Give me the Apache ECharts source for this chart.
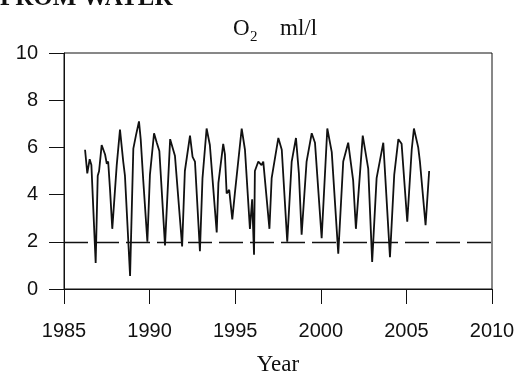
<!DOCTYPE html>
<html>
<head>
<meta charset="utf-8">
<script src="https://cdn.jsdelivr.net/npm/echarts@6/dist/echarts.min.js"></script>
<style>
  html, body { margin: 0; padding: 0; background: #fff; }
  #chart { width: 530px; height: 381px; }
</style>
</head>
<body>
<div id="chart"></div>
<script>
// Bottom-water dissolved oxygen (ml/l), sampled through the seasons
const years = [
  1986.23, 1986.36, 1986.5, 1986.6, 1986.85, 1986.97, 1987.05, 1987.2, 1987.4, 1987.5,
  1987.58, 1987.69, 1987.82, 1988.08, 1988.27, 1988.46, 1988.56, 1988.86, 1989.05, 1989.2,
  1989.38, 1989.48, 1989.63, 1989.87, 1990.02, 1990.26, 1990.42, 1990.57, 1990.9, 1991.2,
  1991.48, 1991.9, 1992.06, 1992.36, 1992.51, 1992.65, 1992.94, 1993.09, 1993.33, 1993.52,
  1993.92, 1994.02, 1994.3, 1994.4, 1994.5, 1994.65, 1994.83, 1994.98, 1995.38, 1995.57,
  1995.86, 1995.99, 1996.1, 1996.15, 1996.35, 1996.54, 1996.64, 1997.0, 1997.13, 1997.52,
  1997.72, 1998.04, 1998.3, 1998.55, 1998.72, 1998.88, 1999.17, 1999.47, 1999.66, 2000.05,
  2000.38, 2000.64, 2001.02, 2001.31, 2001.6, 2001.89, 2002.05, 2002.45, 2002.77, 2003.0,
  2003.26, 2003.65, 2004.04, 2004.29, 2004.53, 2004.72, 2005.05, 2005.31, 2005.44, 2005.69,
  2005.79, 2006.12, 2006.33
];
const o2 = [
  5.9, 4.9, 5.5, 5.25, 1.1, 4.8, 5.0, 6.1, 5.7, 5.3,
  5.4, 4.2, 2.55, 5.25, 6.75, 5.4, 4.8, 0.55, 5.95, 6.5,
  7.1, 6.35, 4.6, 2.0, 4.85, 6.6, 6.2, 5.85, 1.85, 6.35,
  5.65, 1.8, 5.0, 6.5, 5.6, 5.4, 1.6, 4.7, 6.8, 6.1,
  2.4, 4.5, 6.15, 5.7, 4.05, 4.2, 2.95, 4.05, 6.8, 5.9,
  2.55, 3.8, 1.45, 5.0, 5.4, 5.25, 5.4, 2.55, 4.7, 6.4,
  5.9, 2.0, 5.4, 6.4, 4.9, 2.3, 5.4, 6.6, 6.2, 2.15,
  6.8, 5.8, 1.5, 5.4, 6.2, 4.6, 2.55, 6.5, 5.1, 1.15,
  4.7, 6.2, 1.35, 4.85, 6.35, 6.15, 2.85, 5.9, 6.8, 6.0,
  5.4, 2.7, 5.0
];
// Hypoxia threshold
const threshold = 2;

const xTicks = { min: 1985, max: 2010, step: 5 };
const yTicks = { min: 0, max: 10, step: 2 };

const ink = '#111';
const sans = '"Liberation Sans", Arial, sans-serif';
const serif = '"Liberation Serif", "Times New Roman", serif';

const chart = echarts.init(document.getElementById('chart'), null, { renderer: 'canvas' });

chart.setOption({
  animation: false,
  backgroundColor: '#fff',
  grid: {
    left: 64, right: 38, top: 53, bottom: 81,
    show: true, borderColor: ink, borderWidth: 1, backgroundColor: 'transparent'
  },
  graphic: [
    // Section heading running off the top edge
    {
      type: 'text', x: 0, y: 11,
      style: { text: 'FROM WATER', font: 'bold 25px ' + serif, fill: ink, align: 'left', verticalAlign: 'bottom' }
    },
    // Panel title: O2 with subscript, then units
    {
      type: 'text', x: 233, y: 40,
      style: { text: 'O', font: '23px ' + serif, fill: ink, align: 'left', verticalAlign: 'bottom' }
    },
    {
      type: 'text', x: 250, y: 45,
      style: { text: '2', font: '15px ' + serif, fill: ink, align: 'left', verticalAlign: 'bottom' }
    },
    {
      type: 'text', x: 280, y: 40,
      style: { text: 'ml/l', font: '23px ' + serif, fill: ink, align: 'left', verticalAlign: 'bottom' }
    }
  ],
  xAxis: {
    type: 'value',
    min: xTicks.min, max: xTicks.max, interval: xTicks.step,
    name: 'Year', nameLocation: 'middle', nameGap: 64,
    nameTextStyle: { fontFamily: serif, fontSize: 23, color: ink },
    axisLine: { show: true, onZero: false, lineStyle: { color: ink, width: 1 } },
    axisTick: { show: true, inside: false, length: 15, lineStyle: { color: ink, width: 1 } },
    axisLabel: { margin: 32, fontFamily: sans, fontSize: 20, color: ink, formatter: v => String(v) },
    splitLine: { show: false }
  },
  yAxis: {
    type: 'value',
    min: yTicks.min, max: yTicks.max, interval: yTicks.step,
    axisLine: { show: true, lineStyle: { color: ink, width: 1 } },
    axisTick: { show: true, inside: false, length: 15, lineStyle: { color: ink, width: 1 } },
    axisLabel: { margin: 26, fontFamily: sans, fontSize: 20, color: ink },
    splitLine: { show: false }
  },
  series: [
    {
      type: 'line',
      data: years.map((y, i) => [y, o2[i]]),
      showSymbol: false,
      lineStyle: { color: ink, width: 1.8 },
      markLine: {
        silent: true,
        symbol: ['none', 'none'],
        label: { show: false },
        lineStyle: { color: ink, width: 1.3, type: [24, 7] },
        data: [{ yAxis: threshold }]
      }
    }
  ]
});
</script>
</body>
</html>
